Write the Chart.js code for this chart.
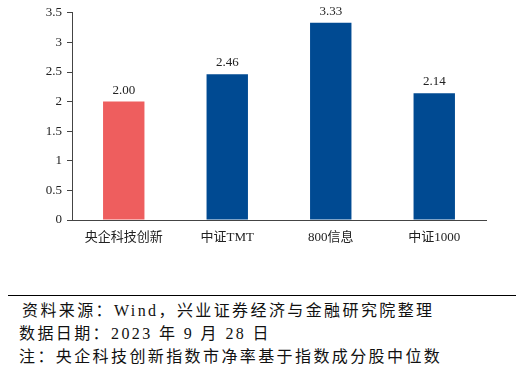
<!DOCTYPE html>
<html>
<head>
<meta charset="utf-8">
<script src="https://cdn.jsdelivr.net/npm/chart.js@4/dist/chart.umd.min.js"></script>
<style>
  html,body{margin:0;padding:0;background:#fff;}
  body{width:529px;height:376px;position:relative;overflow:hidden;font-family:"Liberation Serif","Noto Sans CJK SC",serif;}
  #wrap{position:absolute;left:0;top:0;width:529px;height:252px;}
  #rule{position:absolute;left:8px;top:295px;width:508px;height:0;border-top:1.5px solid #000;}
  .note{position:absolute;left:19px;font-size:16px;letter-spacing:2.4px;color:#111;white-space:nowrap;line-height:18px;}
</style>
</head>
<body>
<div id="wrap"><canvas id="c"></canvas></div>
<div id="rule"></div>
<div class="note" style="top:302px;left:22px">资料来源：Wind，兴业证券经济与金融研究院整理</div>
<div class="note" style="top:325px">数据日期：2023 年 9 月 28 日</div>
<div class="note" style="top:348px">注：央企科技创新指数市净率基于指数成分股中位数</div>
<script>
  // data
  const categories = ['央企科技创新', '中证TMT', '800信息', '中证1000'];
  const pbValues = [2.00, 2.46, 3.33, 2.14];
  const barColors = ['#EE5E5E', '#004A92', '#004A92', '#004A92'];
  const yTicks = [0, 0.5, 1, 1.5, 2, 2.5, 3, 3.5];

  const FONT = '"Liberation Serif","Noto Sans CJK SC",serif';
  const AXIS = '#444';

  // value labels above bars
  const valueLabels = {
    id: 'valueLabels',
    afterDatasetsDraw(chart){
      const ctx = chart.ctx, meta = chart.getDatasetMeta(0);
      ctx.save();
      ctx.font = '13px ' + FONT;
      ctx.fillStyle = '#222';
      ctx.textAlign = 'center';
      ctx.textBaseline = 'bottom';
      meta.data.forEach((bar, i) => {
        ctx.fillText(pbValues[i].toFixed(2), bar.x, bar.y - 5);
      });
      ctx.restore();
    }
  };

  new Chart(document.getElementById('c'), {
    type: 'bar',
    data: {
      labels: categories,
      datasets: [{
        data: pbValues,
        backgroundColor: barColors,
        borderWidth: 0,
        categoryPercentage: 1,
        barPercentage: 0.4
      }]
    },
    options: {
      responsive: true, maintainAspectRatio: false, animation: false,
      layout: {padding: {left: 0, right: 43, top: 12, bottom: 0}},
      plugins: {legend: {display: false}, tooltip: {enabled: false}},
      scales: {
        x: {
          grid: {display: false, drawTicks: false},
          border: {color: AXIS, width: 1},
          ticks: {color: '#222', font: {family: FONT, size: 13}, padding: 10, maxRotation: 0},
          afterFit: s => { s.height = 32; }
        },
        y: {
          min: 0, max: 3.5,
          afterBuildTicks: s => { s.ticks = yTicks.map(v => ({value: v})); },
          grid: {display: true, drawOnChartArea: false, tickLength: 5, color: AXIS},
          border: {color: AXIS, width: 1},
          ticks: {color: '#222', font: {family: FONT, size: 13}, padding: 5, callback: v => String(v)},
          afterFit: s => { s.width = 72; }
        }
      }
    },
    plugins: [valueLabels]
  });
</script>
</body>
</html>
